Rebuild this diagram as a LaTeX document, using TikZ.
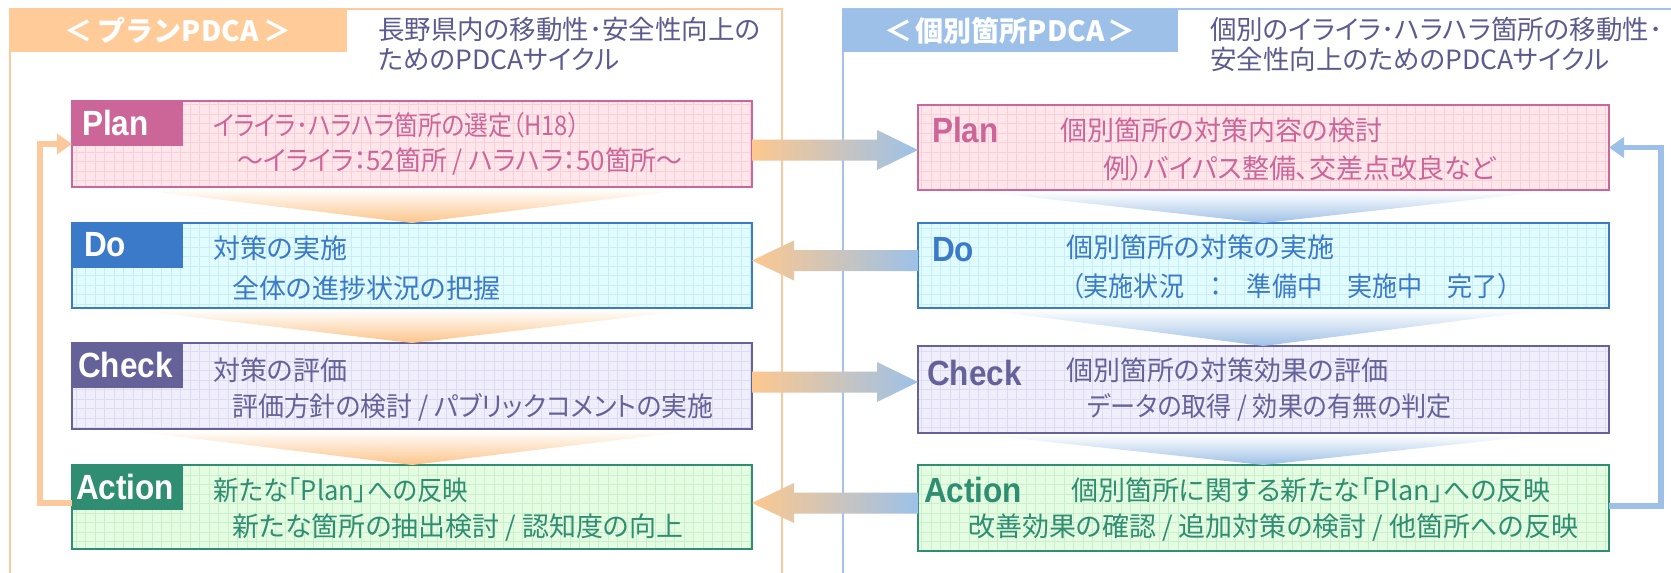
\documentclass[tikz,border=0pt]{standalone}
\usepackage{fontspec}
\newfontfamily\jp[RawFeature=+palt]{Noto Sans CJK JP}
\newfontfamily\jpt{Noto Sans CJK JP}
\newfontfamily\lab{Liberation Sans}
\usetikzlibrary{calc,arrows.meta}
\definecolor{panO}{HTML}{FBC99B}
\definecolor{tabO}{HTML}{FFCC99}
\definecolor{panB}{HTML}{A3C3EA}
\definecolor{tabB}{HTML}{9CC0E8}
\definecolor{subt}{HTML}{5B5B8F}
\definecolor{plancol}{HTML}{CC6699}
\definecolor{planbg}{HTML}{FFE6EB}
\definecolor{plangrid}{HTML}{F9D0D9}
\definecolor{docol}{HTML}{3B7AC8}
\definecolor{dobg}{HTML}{E0FCFF}
\definecolor{dogrid}{HTML}{CAEDF5}
\definecolor{chkcol}{HTML}{65629A}
\definecolor{chkbg}{HTML}{EFEEFA}
\definecolor{chkgrid}{HTML}{DDDBF1}
\definecolor{actcol}{HTML}{2F8E72}
\definecolor{actbg}{HTML}{E3FCE2}
\definecolor{actgrid}{HTML}{CBEFCB}
\definecolor{arrO}{HTML}{FDC88F}
\definecolor{arrB}{HTML}{9CC1E8}
\definecolor{chevO}{HTML}{FCC48A}
\definecolor{chevB}{HTML}{9EC0E6}
\tikzset{
 boxbg/.style={anchor=north west, inner sep=0, outer sep=0, draw=none},
 lblbox/.style={anchor=north west, inner sep=0, outer sep=0, minimum width=111pt, minimum height=45pt},
 lbltxt/.style={anchor=west, inner sep=0, font=\lab\bfseries\fontsize{35}{35}\selectfont},
 bodytxt/.style={anchor=west, inner sep=0, font=\jp\fontsize{27}{27}\selectfont},
 subtxt/.style={anchor=west, inner sep=0, text=subt, font=\jp\fontsize{26.5}{26.5}\selectfont},
 tabnode/.style={anchor=north west, inner sep=0, text=white, font=\jpt\bfseries\fontsize{28}{28}\selectfont},
 boxline/.style={line width=2.5pt},
 fbline/.style={line width=5.5pt, line join=miter, -{Triangle[length=15pt,width=20pt]}},
}
\newcommand\sx[2]{\scalebox{#1}[1]{#2}}
\newcommand\cyclebox[6]{%
  \node[boxbg, fill=#6bg, minimum width=#4pt, minimum height=#5pt] (#1) at (#2,#3) {};
  \draw[#6grid, step=9.5pt, line width=0.5pt] (#1.north west) grid (#1.south east);
}
\newcommand\pdcaframe[2]{\draw[#2col, boxline] (#1.north west) rectangle (#1.south east);}
\newcommand\fatright[2]{%
 \shade[left color=arrO, right color=arrB] ($(#1)+(0,-10.5)$) -- ($(#2)+(-41,-10.5)$) -- ($(#2)+(-41,-20)$) -- (#2) -- ($(#2)+(-41,20)$) -- ($(#2)+(-41,10.5)$) -- ($(#1)+(0,10.5)$) -- cycle;}
\newcommand\fatleft[2]{%
 \shade[left color=arrO, right color=arrB] (#1) -- ($(#1)+(42,-20)$) -- ($(#1)+(42,-10.5)$) -- ($(#2)+(0,-10.5)$) -- ($(#2)+(0,10.5)$) -- ($(#1)+(42,10.5)$) -- ($(#1)+(42,20)$) -- cycle;}
\newcommand\chev[3]{%
 \shade[top color=white, bottom color=#3] ($(#1.south)+(-283,1.5)$) -- ($(#1.south)+(283,1.5)$) -- (#2.north) -- cycle;}
\begin{document}
\begin{tikzpicture}[x=1pt,y=-1pt]
\useasboundingbox (0,0) rectangle (1671,573);
\clip (0,0) rectangle (1671,573);
\fill[white] (0,0) rectangle (1671,573);
% panels
\draw[panO, line width=1.5pt] (10,600) -- (10,9) -- (782,9) -- (782,600);
\draw[panB, line width=1.5pt] (843,600) -- (843,9) -- (1700,9);
\node[tabnode, fill=tabO, minimum width=338pt, minimum height=43pt] (ltab) at (9,9) {＜\kern5pt プランPDCA\kern5pt ＞};
\node[tabnode, fill=tabB, minimum width=336pt, minimum height=43pt] (rtab) at (842,9) {＜\kern3pt 個別箇所PDCA\kern3pt ＞};
\node[subtxt] (ls1) at (378,29) {長野県内の移動性･安全性向上の};
\node[subtxt] (ls2) at (378,59) {ためのPDCAサイクル};
\node[subtxt] (rs1) at (1210,29) {個別のイライラ･ハラハラ箇所の移動性･};
\node[subtxt] (rs2) at (1210,59) {安全性向上のためのPDCAサイクル};
% left boxes
\cyclebox{lplan}{72}{101}{680}{86}{plan}
\cyclebox{ldo}{72}{223}{680}{85}{do}
\cyclebox{lchk}{72}{343}{680}{86}{chk}
\cyclebox{lact}{72}{465}{680}{84}{act}
% right boxes
\cyclebox{rplan}{918}{105}{691}{85}{plan}
\cyclebox{rdo}{918}{223}{691}{85}{do}
\cyclebox{rchk}{918}{346}{691}{87}{chk}
\cyclebox{ract}{918}{465}{691}{86}{act}
% label boxes
\node[lblbox, fill=plancol] (lplanlbl) at (lplan.north west) {};
\node[lblbox, fill=docol] (ldolbl) at (ldo.north west) {};
\node[lblbox, fill=chkcol] (lchklbl) at (lchk.north west) {};
\node[lblbox, fill=actcol] (lactlbl) at (lact.north west) {};
\pdcaframe{lplan}{plan}\pdcaframe{ldo}{do}\pdcaframe{lchk}{chk}\pdcaframe{lact}{act}
\pdcaframe{rplan}{plan}\pdcaframe{rdo}{do}\pdcaframe{rchk}{chk}\pdcaframe{ract}{act}
\node[lbltxt, text=white] (lplt) at ($(lplanlbl.west)+(10,-1)$) {\sx{0.9}{Plan}};
\node[lbltxt, text=white] (ldlt) at ($(ldolbl.west)+(12,-1)$) {\sx{0.9}{Do}};
\node[lbltxt, text=white] (lclt) at ($(lchklbl.west)+(6,-1)$) {\sx{0.9}{Check}};
\node[lbltxt, text=white] (lalt) at ($(lactlbl.west)+(4,-1)$) {\sx{0.9}{Action}};
% chevrons
\chev{lplan}{ldo}{chevO}\chev{ldo}{lchk}{chevO}\chev{lchk}{lact}{chevO}
\chev{rplan}{rdo}{chevB}\chev{rdo}{rchk}{chevB}\chev{rchk}{ract}{chevB}
% left texts
\node[bodytxt, text=plancol] (lp1) at (213,125) {\sx{0.88}{イライラ･ハラハラ箇所の選定（H18）}};
\node[bodytxt, text=plancol] (lp2) at (237,162) {\sx{0.96}{～イライラ：52箇所 / ハラハラ：50箇所～}};
\node[bodytxt, text=docol] (ld1) at (213,248) {対策の実施};
\node[bodytxt, text=docol] (ld2) at (232,288) {全体の進捗状況の把握};
\node[bodytxt, text=chkcol] (lc1) at (213,370) {対策の評価};
\node[bodytxt, text=chkcol] (lc2) at (232,407) {\sx{0.96}{評価方針の検討 / パブリックコメントの実施}};
\node[bodytxt, text=actcol] (la1) at (213,490) {\sx{0.945}{新たな「Plan」への反映}};
\node[bodytxt, text=actcol] (la2) at (232,528) {新たな箇所の抽出検討 / 認知度の向上};
% right texts
\node[lbltxt, text=plancol] (rpl) at (932,130) {\sx{0.9}{Plan}};
\node[bodytxt, text=plancol] (rp1) at (1060,130) {個別箇所の対策内容の検討};
\node[bodytxt, text=plancol] (rp2) at (1103,168) {例）バイパス整備、交差点改良など};
\node[lbltxt, text=docol] (rdl) at (932,250) {\sx{0.9}{Do}};
\node[bodytxt, text=docol] (rd1) at (1066,247) {個別箇所の対策の実施};
\node[bodytxt, text=docol] (rd2) at (1071,286) {\sx{0.93}{（実施状況　：　準備中　実施中　完了）}};
\node[lbltxt, text=chkcol] (rcl) at (927,373) {\sx{0.9}{Check}};
\node[bodytxt, text=chkcol] (rc1) at (1066,370) {個別箇所の対策効果の評価};
\node[bodytxt, text=chkcol] (rc2) at (1087,407) {\sx{0.93}{データの取得 / 効果の有無の判定}};
\node[lbltxt, text=actcol] (ral) at (924,490) {\sx{0.9}{Action}};
\node[bodytxt, text=actcol] (ra1) at (1071,490) {個別箇所に関する新たな「Plan」への反映};
\node[bodytxt, text=actcol] (ra2) at (968,528) {改善効果の確認 / 追加対策の検討 / 他箇所への反映};
% fat arrows between panels
\coordinate (a1s) at ($(lplan.east)+(0,6)$);
\coordinate (a1e) at (rplan.west |- a1s);
\fatright{a1s}{a1e}
\coordinate (a2e) at ($(ldo.east)+(0,-5)$);
\coordinate (a2s) at (rdo.west |- a2e);
\fatleft{a2e}{a2s}
\coordinate (a3s) at ($(lchk.east)+(0,-4)$);
\coordinate (a3e) at (rchk.west |- a3s);
\fatright{a3s}{a3e}
\coordinate (a4e) at ($(lact.east)+(0,-4)$);
\coordinate (a4s) at (ract.west |- a4e);
\fatleft{a4e}{a4s}
% feedback loops
\draw[fbline, panO] ($(lact.west)+(0,-4)$) -- ++(-32,0) |- (lplan.west);
\draw[fbline, tabB] ($(ract.east)+(0,-2)$) -- ++(52,0) |- (rplan.east);
\end{tikzpicture}
\end{document}
